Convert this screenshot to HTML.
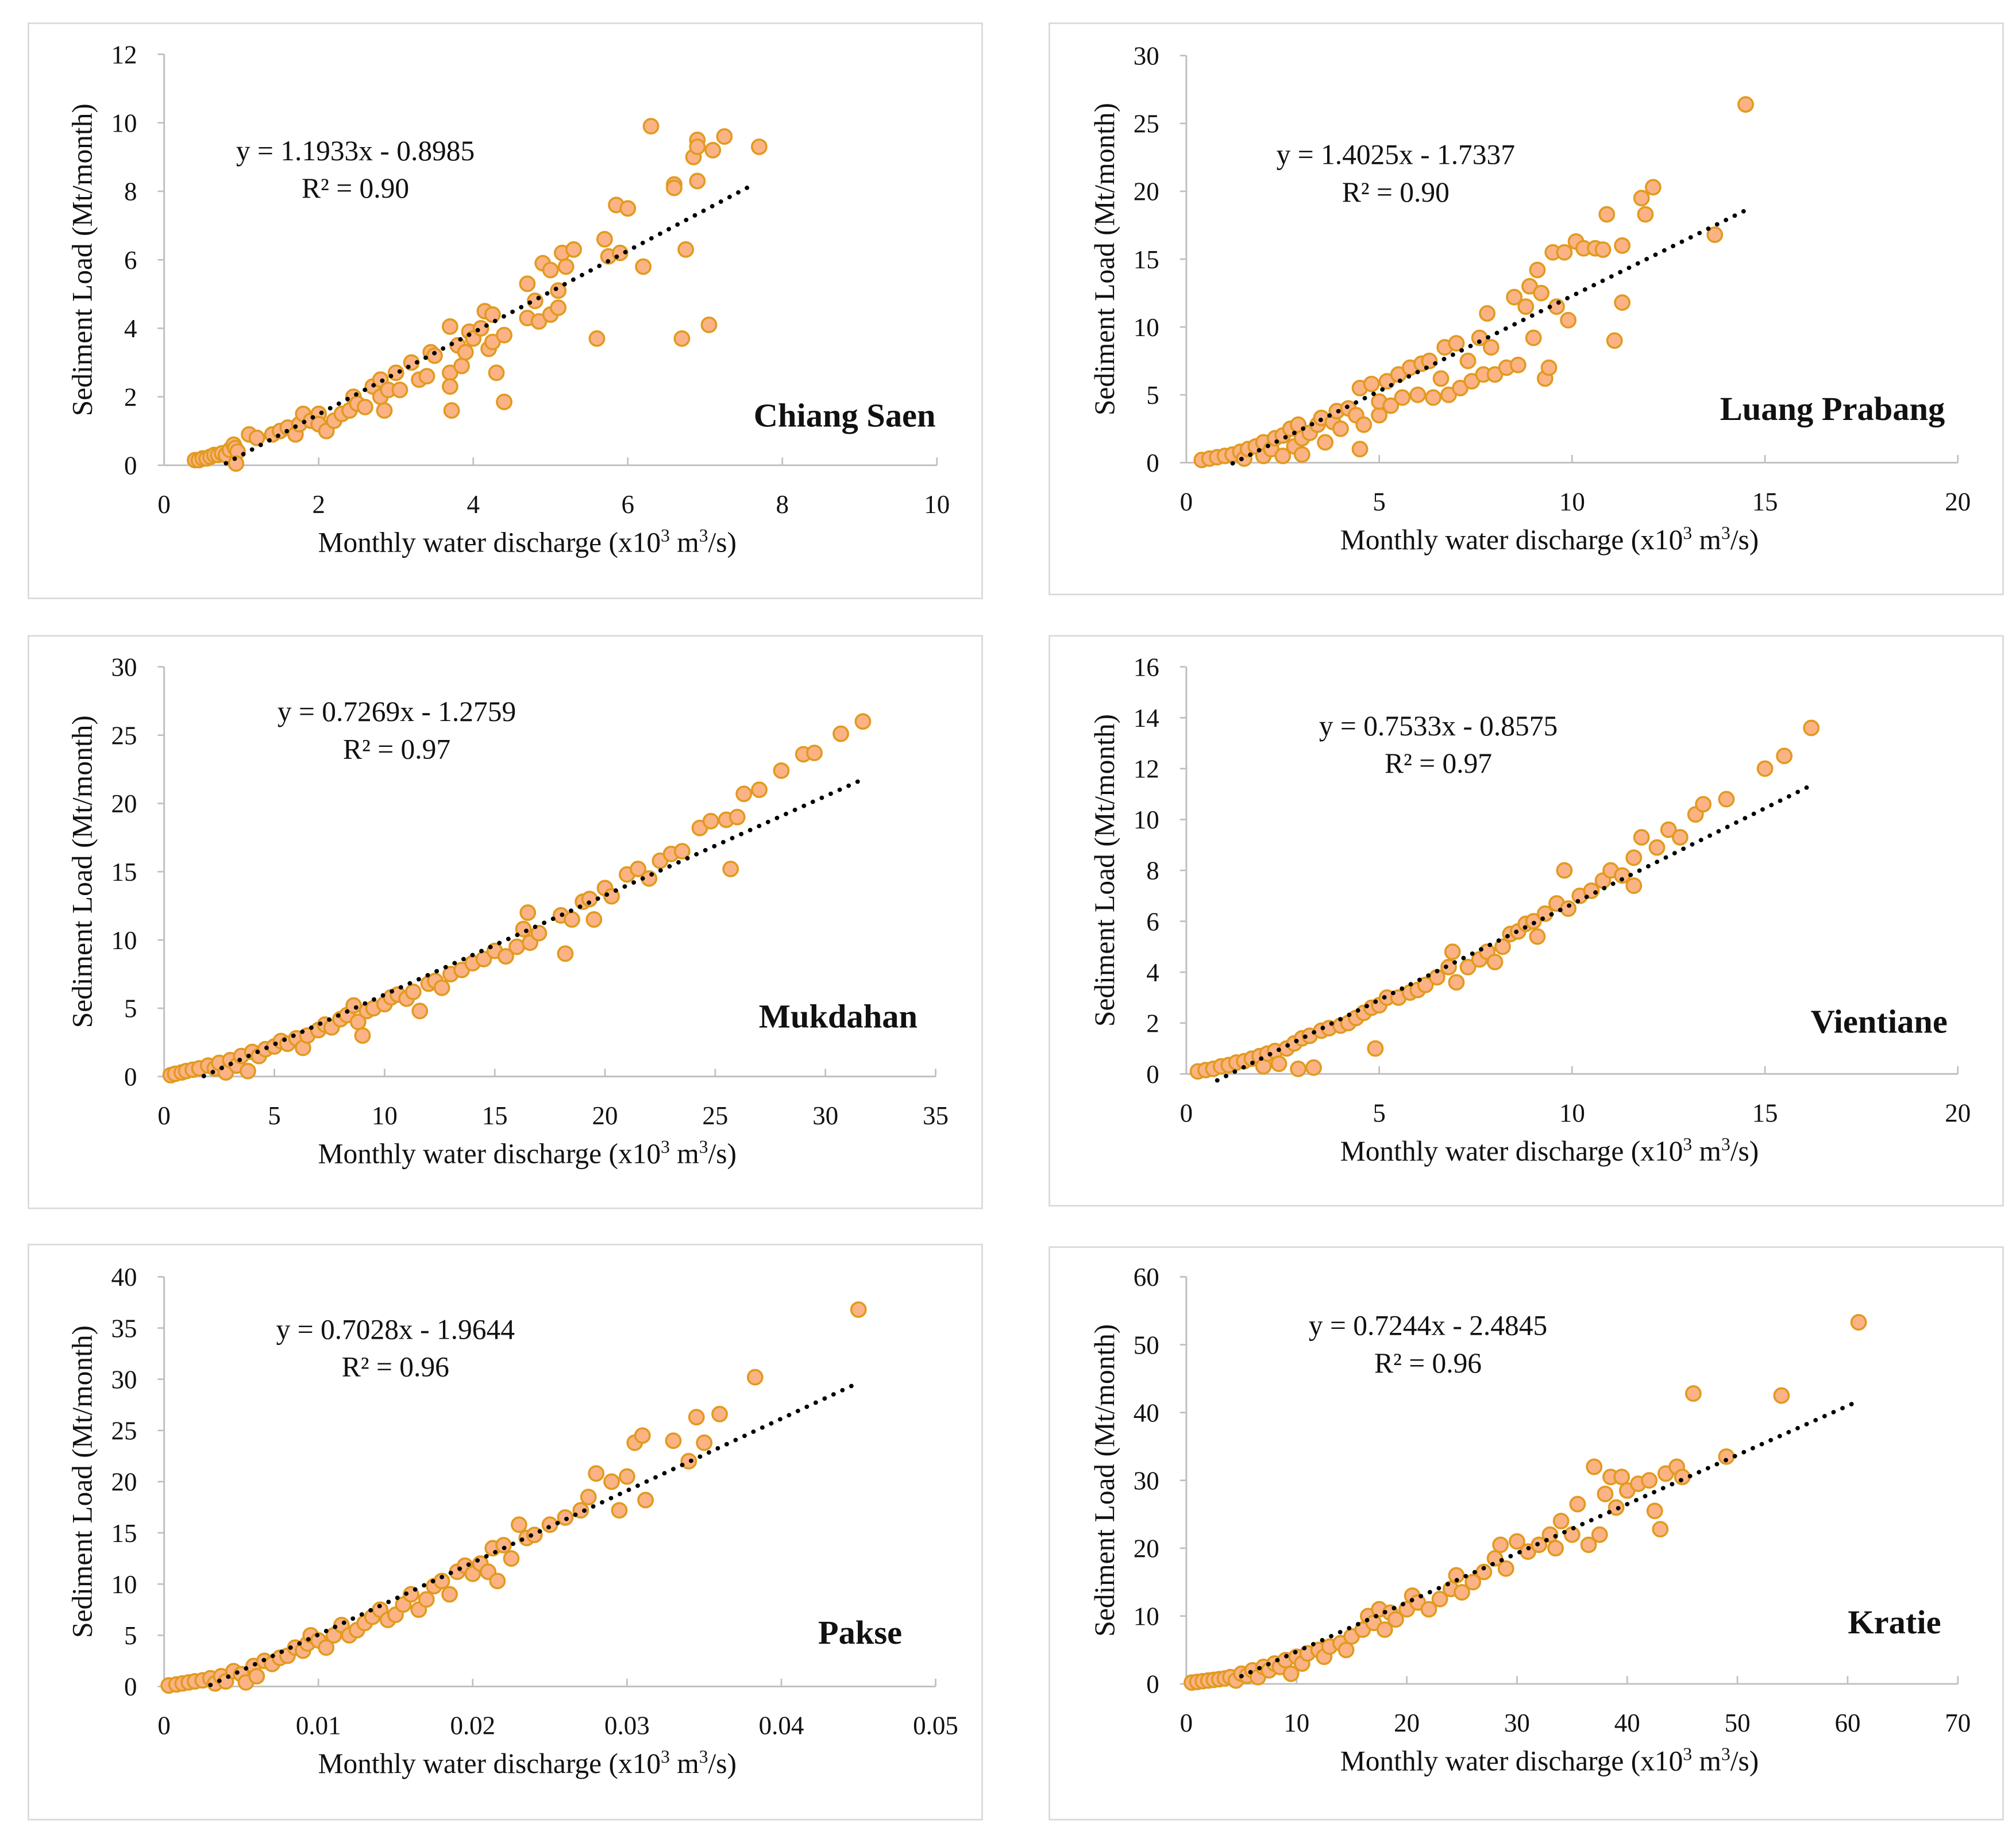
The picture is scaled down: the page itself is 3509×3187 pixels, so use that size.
<!DOCTYPE html>
<html><head><meta charset="utf-8"><style>
html,body{margin:0;padding:0;background:#fff;}
svg{display:block;}
text{font-family:"Liberation Serif",serif;fill:#111;}
</style></head><body>
<svg id="fig" width="3509" height="3187" viewBox="0 0 1560 1416.8" xmlns="http://www.w3.org/2000/svg"></svg>
<script>
// Chiang Saen
const csX=[0.4,0.45,0.5,0.55,0.6,0.65,0.7,0.75,0.8,0.85,0.9,0.92,0.95,0.93,1.1,1.2,1.4,1.5,1.6,1.7,1.75,1.8,1.9,2.0,2.0,2.1,2.2,2.3,2.4,2.45,2.5,2.6,2.7,2.8,2.8,2.85,2.9,3.0,3.05,3.2,3.3,3.4,3.45,3.5,3.7,3.7,3.7,3.72,3.8,3.85,3.9,3.95,4.0,4.1,4.15,4.2,4.25,4.25,4.3,4.4,4.4,4.7,4.7,4.8,4.85,4.9,5.0,5.0,5.1,5.1,5.15,5.2,5.3,5.6,5.7,5.75,5.85,5.9,6.0,6.2,6.3,6.6,6.6,6.7,6.75,6.85,6.9,6.9,6.9,7.05,7.1,7.25,7.7];
const csY=[0.15,0.15,0.2,0.2,0.25,0.3,0.3,0.35,0.3,0.45,0.6,0.5,0.4,0.05,0.9,0.8,0.9,1.0,1.1,0.9,1.2,1.5,1.3,1.5,1.2,1.0,1.3,1.5,1.6,2.0,1.8,1.7,2.3,2.5,2.0,1.6,2.2,2.7,2.2,3.0,2.5,2.6,3.3,3.2,4.05,2.7,2.3,1.6,3.5,2.9,3.3,3.9,3.7,4.0,4.5,3.4,4.4,3.6,2.7,1.85,3.8,4.3,5.3,4.8,4.2,5.9,4.4,5.7,4.6,5.1,6.2,5.8,6.3,3.7,6.6,6.1,7.6,6.2,7.5,5.8,9.9,8.2,8.1,3.7,6.3,9.0,9.5,8.3,9.3,4.1,9.2,9.6,9.3];
// Luang Prabang
const lpX=[0.4,0.6,0.8,1.0,1.2,1.4,1.5,1.6,1.8,2.0,2.0,2.2,2.3,2.5,2.5,2.7,2.8,2.9,3.0,3.0,3.2,3.4,3.5,3.6,3.8,3.9,4.0,4.2,4.4,4.5,4.5,4.6,4.8,5.0,5.0,5.2,5.3,5.5,5.6,5.8,6.0,6.1,6.3,6.4,6.6,6.7,6.8,7.0,7.1,7.3,7.4,7.6,7.7,7.8,7.9,8.0,8.3,8.5,8.6,8.8,8.9,9.0,9.1,9.2,9.3,9.4,9.5,9.6,9.8,9.9,10.1,10.3,10.6,10.9,10.8,11.1,11.3,11.3,11.8,11.9,12.1,13.7,14.5];
const lpY=[0.2,0.3,0.4,0.5,0.6,0.8,0.3,1.0,1.2,0.5,1.5,1.0,1.8,2.0,0.5,2.5,1.2,2.8,1.8,0.6,2.2,2.8,3.3,1.5,3.0,3.8,2.5,4.0,3.5,5.5,1.0,2.8,5.8,3.5,4.5,6.0,4.2,6.5,4.8,7.0,5.0,7.3,7.5,4.8,6.2,8.5,5.0,8.8,5.5,7.5,6.0,9.2,6.5,11.0,8.5,6.5,7.0,12.2,7.2,11.5,13.0,9.2,14.2,12.5,6.2,7.0,15.5,11.5,15.5,10.5,16.3,15.8,15.8,18.3,15.7,9.0,11.8,16.0,19.5,18.3,20.3,16.8,26.4];
// Mukdahan
const mkX=[0.3,0.5,0.8,1.0,1.3,1.6,2.0,2.3,2.5,2.8,3.0,3.3,3.5,3.8,4.0,4.3,4.6,5.0,5.3,5.6,6.0,6.3,6.5,7.0,7.3,7.6,8.0,8.3,8.6,8.8,9.0,9.2,9.5,10.0,10.3,10.6,11.0,11.3,11.6,12.0,12.3,12.6,13.0,13.5,14.0,14.5,15.0,15.5,16.0,16.3,16.5,16.6,17.0,18.0,18.2,18.5,19.0,19.3,19.5,20.0,20.3,21.0,21.5,22.0,22.5,23.0,23.5,24.3,24.8,25.5,25.7,26.0,26.3,27.0,28.0,29.0,29.5,30.7,31.7];
const mkY=[0.1,0.2,0.3,0.4,0.5,0.6,0.8,0.6,1.0,0.3,1.2,0.8,1.5,0.4,1.8,1.5,2.0,2.2,2.6,2.4,2.8,2.1,3.0,3.4,3.8,3.6,4.2,4.5,5.2,4.0,3.0,4.8,5.0,5.3,5.8,6.0,5.7,6.2,4.8,6.8,7.0,6.5,7.5,7.8,8.3,8.6,9.2,8.8,9.5,10.8,12.0,9.8,10.5,11.8,9.0,11.5,12.8,13.0,11.5,13.8,13.2,14.8,15.2,14.5,15.8,16.3,16.5,18.2,18.7,18.8,15.2,19.0,20.7,21.0,22.4,23.6,23.7,25.1,26.0];
// Vientiane
const vtX=[0.3,0.5,0.7,0.9,1.1,1.3,1.5,1.7,1.9,2.0,2.1,2.3,2.4,2.6,2.8,2.9,3.0,3.2,3.3,3.5,3.7,4.0,4.2,4.4,4.6,4.8,4.9,5.0,5.2,5.5,5.8,6.0,6.2,6.5,6.8,6.9,7.0,7.3,7.6,7.8,8.0,8.2,8.4,8.6,8.8,9.0,9.1,9.3,9.6,9.8,9.9,10.2,10.5,10.8,11.0,11.3,11.6,11.6,11.8,12.2,12.5,12.8,13.2,13.4,14.0,15.0,15.5,16.2];
const vtY=[0.1,0.15,0.2,0.3,0.35,0.45,0.5,0.6,0.7,0.3,0.8,0.9,0.4,1.0,1.2,0.2,1.4,1.5,0.25,1.7,1.8,1.9,2.0,2.2,2.4,2.6,1.0,2.7,3.0,3.0,3.2,3.3,3.5,3.8,4.2,4.8,3.6,4.2,4.5,4.8,4.4,5.0,5.5,5.6,5.9,6.0,5.4,6.3,6.7,8.0,6.5,7.0,7.2,7.6,8.0,7.8,8.5,7.4,9.3,8.9,9.6,9.3,10.2,10.6,10.8,12.0,12.5,13.6];
// Pakse
const pkX=[0.0003,0.0008,0.0012,0.0016,0.002,0.0025,0.003,0.0033,0.0037,0.004,0.0045,0.005,0.0053,0.0058,0.006,0.0065,0.007,0.0075,0.008,0.0085,0.009,0.0093,0.0095,0.01,0.0105,0.011,0.0115,0.012,0.0125,0.013,0.0135,0.014,0.0145,0.015,0.0155,0.016,0.0165,0.017,0.0175,0.018,0.0185,0.019,0.0195,0.02,0.0205,0.021,0.0213,0.0216,0.022,0.0225,0.023,0.0235,0.024,0.025,0.026,0.027,0.0275,0.028,0.029,0.0295,0.03,0.0305,0.031,0.0312,0.033,0.034,0.0345,0.035,0.036,0.0383,0.045];
const pkY=[0.1,0.2,0.3,0.4,0.5,0.6,0.8,0.3,1.0,0.5,1.5,1.2,0.4,2.0,1.0,2.5,2.2,2.8,3.0,3.8,3.5,4.2,5.0,4.5,3.8,5.0,6.0,5.0,5.5,6.2,6.8,7.5,6.5,7.0,8.0,9.0,7.5,8.5,9.8,10.3,9.0,11.2,11.8,11.0,12.0,11.2,13.5,10.3,13.8,12.5,15.8,14.5,14.8,15.8,16.5,17.2,18.5,20.8,20.0,17.2,20.5,23.8,24.5,18.2,24.0,22.0,26.3,23.8,26.6,30.2,36.8];
// Kratie
const krX=[0.5,1,1.5,2,2.5,3,3.5,4,4.5,5,5.5,6,6.5,7,7.5,8,8.5,9,9.5,10,10.5,11,12,12.5,13,14,14.5,15,16,16.5,17,17.5,18,18.5,19,20,20.5,21,22,23,24,24.5,25,26,27,28,28.5,29,30,31,32,33,33.5,34,35,35.5,36.5,37,37.5,38,38.5,39,39.5,40,41,42,42.5,43,43.5,44.5,45,46,49,54,61];
const krY=[0.2,0.3,0.4,0.5,0.6,0.7,0.8,1.0,0.5,1.5,1.2,2.0,1.0,2.5,2.0,3.0,2.5,3.5,1.5,4.0,3.0,4.5,5.0,4.0,5.5,6.0,5.0,7.0,8.0,10.0,9.0,11.0,8.0,10.5,9.5,11.0,13.0,12.0,11.0,12.5,14.0,16.0,13.5,15.0,16.5,18.5,20.5,17.0,21.0,19.5,20.5,22.0,20.0,24.0,22.0,26.5,20.5,32.0,22.0,28.0,30.5,26.0,30.5,28.5,29.5,30.0,25.5,22.8,31.0,32.0,30.5,42.8,33.5,42.5,53.3];

const names=["Chiang Saen","Luang Prabang","Mukdahan","Vientiane","Pakse","Kratie"];
const slopes=[1.1933,1.4025,0.7269,0.7533,0.7028,0.7244];
const intercepts=[-0.8985,-1.7337,-1.2759,-0.8575,-1.9644,-2.4845];
const trendUnit=[1,1,1,1,1000,1];
const trendStart=[0.8,1.2,1.8,0.8,0.003,5];
const trendEnd=[7.6,14.5,31.7,16.2,0.045,61];
const equations=["y = 1.1933x - 0.8985","y = 1.4025x - 1.7337","y = 0.7269x - 1.2759","y = 0.7533x - 0.8575","y = 0.7028x - 1.9644","y = 0.7244x - 2.4845"];
const r2Labels=["R² = 0.90","R² = 0.90","R² = 0.97","R² = 0.97","R² = 0.96","R² = 0.96"];
const xTicks=[[0,2,4,6,8,10],[0,5,10,15,20],[0,5,10,15,20,25,30,35],[0,5,10,15,20],[0,0.01,0.02,0.03,0.04,0.05],[0,10,20,30,40,50,60,70]];
const yTicks=[[0,2,4,6,8,10,12],[0,5,10,15,20,25,30],[0,5,10,15,20,25,30],[0,2,4,6,8,10,12,14,16],[0,5,10,15,20,25,30,35,40],[0,10,20,30,40,50,60]];
const xs=[csX,lpX,mkX,vtX,pkX,krX];
const ys=[csY,lpY,mkY,vtY,pkY,krY];

const frames=[[22,18,738,445],[812,18,738,442],[22,492,738,443],[812,492,738,441],[22,963,738,445],[812,965,738,443]];
const plot=[[127,725,360,42],[918,1515,358,43],[127,724,833,516],[918,1515,831,516],[127,724,1305,988],[918,1515,1303,988]];
const eqPos=[[275,117],[1080,120],[307,551],[1113,562],[306,1029],[1105,1026]];
const titlePos=[[724,321],[1505,316],[710,786],[1507,790],[698,1263],[1502,1255]];

const NS="http://www.w3.org/2000/svg";
const svg=document.getElementById('fig');
function mk(tag,attrs,parent){const e=document.createElementNS(NS,tag);for(const k in attrs)e.setAttribute(k,attrs[k]);parent.appendChild(e);return e;}

for(let p=0;p<6;p++){
  const g=mk('g',{},svg);
  
  
  const [fx,fy,fw,fh]=frames[p];
  const fr=mk('rect',{x:fx,y:fy,width:fw,height:fh,fill:'#fff',stroke:'#d9d9d9','stroke-width':1.2},g);
  
  
  const [x0,x1,y0,y1]=plot[p];
  const xt=xTicks[p],yt=yTicks[p];
  const xmax=xt[xt.length-1],ymax=yt[yt.length-1];
  const sx=v=>x0+(v/xmax)*(x1-x0);
  const sy=v=>y0-(v/ymax)*(y0-y1);
  const ya=mk('line',{x1:x0,y1:y0,x2:x0,y2:y1,stroke:'#bfbfbf','stroke-width':1.3},g);
  
  
  const xa=mk('line',{x1:x0,y1:y0,x2:x1,y2:y0,stroke:'#bfbfbf','stroke-width':1.3},g);
  
  
  yt.forEach(v=>{
    mk('line',{x1:x0-5,y1:sy(v),x2:x0,y2:sy(v),stroke:'#bfbfbf','stroke-width':1.2},g);
    const t=mk('text',{x:x0-21,y:sy(v)+7,'text-anchor':'end','font-size':20},g);
    t.textContent=String(v);
    
    
  });
  xt.forEach(v=>{
    mk('line',{x1:sx(v),y1:y0,x2:sx(v),y2:y0-6,stroke:'#bfbfbf','stroke-width':1.2},g);
    const t=mk('text',{x:sx(v),y:y0+37,'text-anchor':'middle','font-size':20},g);
    t.textContent=String(v);
    
    
  });
  const cy=(y0+y1)/2;
  const yl=mk('text',{x:0,y:0,'text-anchor':'middle','font-size':22,transform:`translate(${x0-56},${cy}) rotate(-90)`},g);
  yl.textContent='Sediment Load (Mt/month)';
  
  
  const xl=mk('text',{x:x0+281,y:y0+67,'text-anchor':'middle','font-size':22},g);
  xl.innerHTML='Monthly water discharge (x10<tspan dy="-8" font-size="14">3</tspan><tspan dy="8"> m</tspan><tspan dy="-8" font-size="14">3</tspan><tspan dy="8">/s)</tspan>';
  
  
  const X=xs[p],Y=ys[p];
  for(let i=0;i<X.length;i++){
    const c=mk('circle',{cx:sx(X[i]),cy:sy(Y[i]),r:5.6,fill:'#fbb385',stroke:'#e29a1f','stroke-width':1.6},g);
    
    
  }
  const a=trendStart[p],b=trendEnd[p],u=trendUnit[p];
  const tl=mk('line',{x1:sx(a),y1:sy(slopes[p]*a*u+intercepts[p]),x2:sx(b),y2:sy(slopes[p]*b*u+intercepts[p]),stroke:'#000','stroke-width':3.4,'stroke-linecap':'round','stroke-dasharray':'0.1 7.5'},g);
  
  
  const [ex,ey]=eqPos[p];
  const e1=mk('text',{x:ex,y:ey+7,'text-anchor':'middle','font-size':22},g);
  e1.textContent=equations[p];
  
  
  const e2=mk('text',{x:ex,y:ey+36,'text-anchor':'middle','font-size':22},g);
  e2.textContent=r2Labels[p];
  
  
  const [tx,ty]=titlePos[p];
  const tt=mk('text',{x:tx,y:ty+9,'text-anchor':'end','font-size':26,'font-weight':'bold'},g);
  tt.textContent=names[p];
  
  
}
</script>
</body></html>
